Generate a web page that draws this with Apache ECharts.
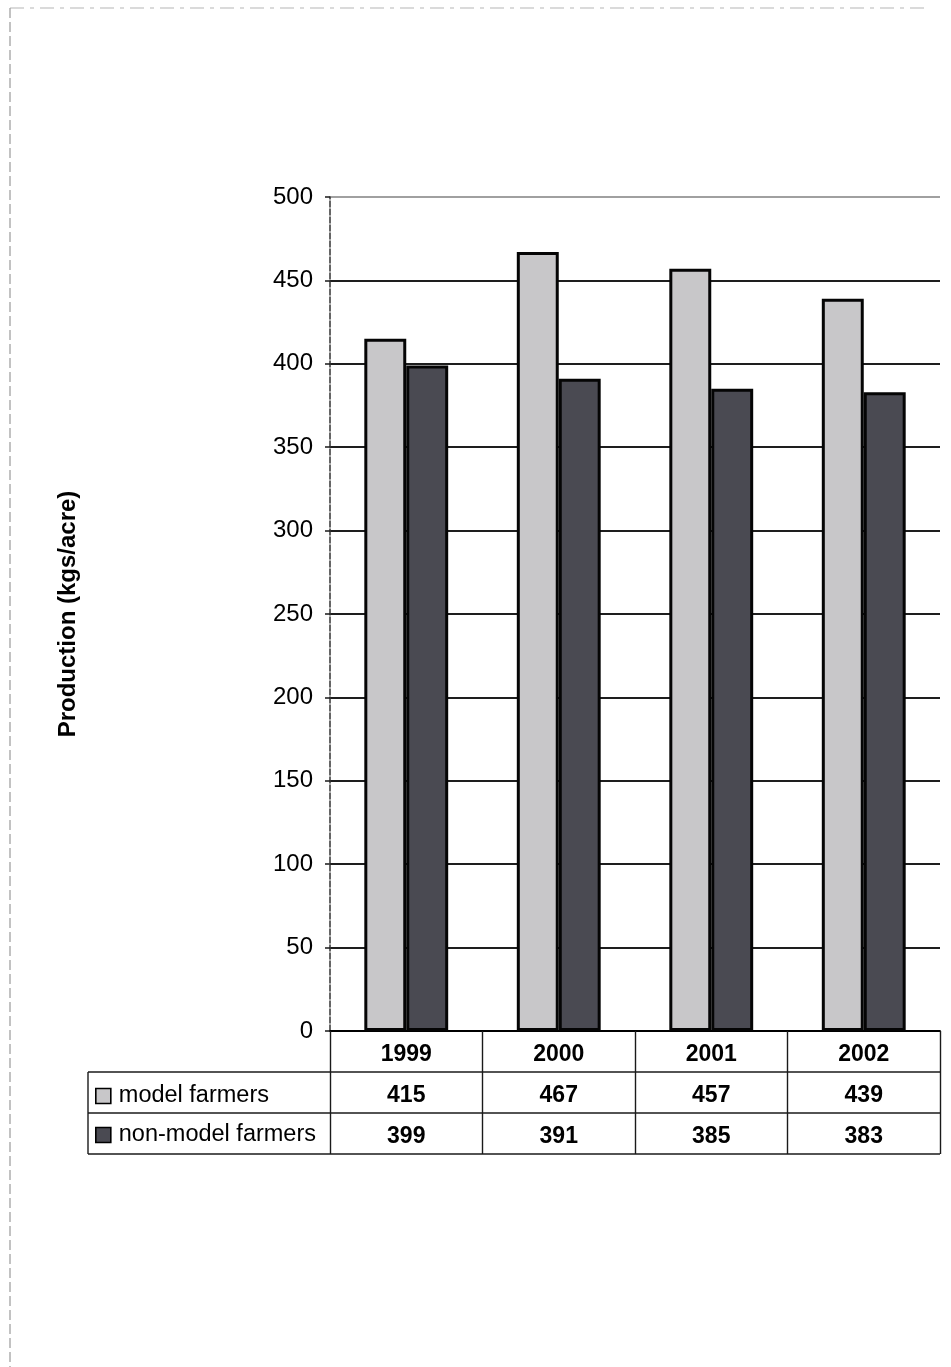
<!DOCTYPE html>
<html>
<head>
<meta charset="utf-8">
<title>Production (kgs/acre)</title>
<script src="https://cdn.jsdelivr.net/npm/echarts@6/dist/echarts.min.js"></script>
<style>
  html, body { margin: 0; padding: 0; background: #fff; }
  #chart { width: 951px; height: 1367px; }
</style>
</head>
<body>
<div id="chart"></div>
<script>
// Yield per acre, model vs non-model farmers
const years = ['1999', '2000', '2001', '2002'];
const modelFarmers = [415, 467, 457, 439];
const nonModelFarmers = [399, 391, 385, 383];
const seriesNames = ['model farmers', 'non-model farmers'];

const FONT = '"Liberation Sans", Arial, Helvetica, sans-serif';

// plot frame and data-table geometry
const GRID_LEFT = 330, GRID_TOP = 197, GRID_RIGHT = 11, GRID_BOTTOM = 336;
const W = 951, H = 1367;
const AXIS_Y = H - GRID_BOTTOM;          // baseline of the bars
const PLOT_RIGHT = W - GRID_RIGHT;
const ROW = 41;                           // data-table row height
const TABLE_LEFT = 88;

const chart = echarts.init(document.getElementById('chart'), null, { renderer: 'canvas' });

const gridColors = [];
for (let i = 0; i <= 10; i++) gridColors.push(i === 10 ? '#a0a0a0' : '#1e1e1e');

const tableLine = (x1, y1, x2, y2) => ({
  type: 'line',
  shape: { x1, y1, x2, y2 },
  style: { stroke: '#1a1a1a', lineWidth: 1.4 },
  silent: true
});

const option = {
  backgroundColor: '#fff',
  animation: false,
  textStyle: { fontFamily: FONT },
  grid: { left: GRID_LEFT, top: GRID_TOP, right: GRID_RIGHT, bottom: GRID_BOTTOM, containLabel: false },
  legend: {
    data: seriesNames,
    orient: 'vertical',
    left: 95,
    top: AXIS_Y + ROW + 12,
    itemWidth: 15,
    itemHeight: 15,
    itemGap: 15,
    icon: 'rect',
    padding: 0,
    selectedMode: false,
    itemStyle: { borderColor: '#000', borderWidth: 1.6 },
    textStyle: { fontFamily: FONT, fontSize: 23.5, color: '#000', padding: [2, 0, 0, 3] }
  },
  xAxis: {
    type: 'category',
    data: years,
    boundaryGap: true,
    axisLine: { lineStyle: { color: '#000', width: 1.8 } },
    axisTick: { show: true, length: ROW * 3, lineStyle: { color: '#1a1a1a', width: 1.4 } },
    axisLabel: {
      interval: 0,
      margin: 3,
      formatter: (v, i) => `{yr|${v}}\n{val|${modelFarmers[i]}}\n{val|${nonModelFarmers[i]}}`,
      rich: {
        yr: { fontFamily: FONT, fontSize: 23, fontWeight: 'bold', color: '#000', lineHeight: ROW, align: 'center' },
        val: { fontFamily: FONT, fontSize: 23, fontWeight: 'bold', color: '#000', lineHeight: ROW, align: 'center' }
      }
    },
    splitLine: { show: false }
  },
  yAxis: {
    type: 'value',
    min: 0,
    max: 500,
    interval: 50,
    name: 'Production (kgs/acre)',
    nameLocation: 'middle',
    nameGap: 250,
    nameTextStyle: { fontFamily: FONT, fontSize: 24, fontWeight: 'bold', color: '#000' },
    axisLine: { show: true, lineStyle: { color: '#333', width: 1.5, type: [6, 2] } },
    axisTick: { show: true, length: 5, lineStyle: { color: '#1a1a1a', width: 1.5 } },
    axisLabel: { fontFamily: FONT, fontSize: 24, color: '#000', margin: 17 },
    splitLine: { show: true, lineStyle: { color: gridColors, width: 1.8 } }
  },
  series: [
    {
      name: seriesNames[0],
      type: 'bar',
      data: modelFarmers,
      barWidth: '27.5%',
      barGap: '0%',
      itemStyle: { color: '#c8c7c9', borderColor: '#050505', borderWidth: 3 }
    },
    {
      name: seriesNames[1],
      type: 'bar',
      data: nonModelFarmers,
      barWidth: '27.5%',
      barGap: '0%',
      itemStyle: { color: '#4a4a52', borderColor: '#050505', borderWidth: 3 }
    }
  ],
  graphic: [
    // data-table rules
    tableLine(TABLE_LEFT, AXIS_Y + ROW, PLOT_RIGHT, AXIS_Y + ROW),
    tableLine(TABLE_LEFT, AXIS_Y + ROW * 2, PLOT_RIGHT, AXIS_Y + ROW * 2),
    tableLine(TABLE_LEFT, AXIS_Y + ROW * 3, PLOT_RIGHT, AXIS_Y + ROW * 3),
    tableLine(TABLE_LEFT, AXIS_Y + ROW, TABLE_LEFT, AXIS_Y + ROW * 3),
    // faint page edges
    {
      type: 'line', silent: true,
      shape: { x1: 10, y1: 8, x2: 930, y2: 8 },
      style: { stroke: '#b5b5b5', lineWidth: 1.2, lineDash: [14, 6, 4, 6] }
    },
    {
      type: 'line', silent: true,
      shape: { x1: 10, y1: 8, x2: 10, y2: H },
      style: { stroke: '#9a9a9a', lineWidth: 1.2, lineDash: [10, 4] }
    }
  ]
};

chart.setOption(option);
</script>
</body>
</html>
